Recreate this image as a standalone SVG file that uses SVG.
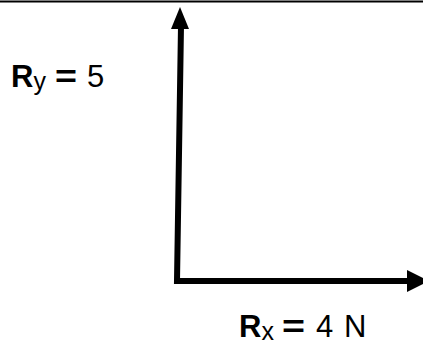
<svg xmlns="http://www.w3.org/2000/svg" width="423" height="347" viewBox="0 0 423 347">
<style>
.t{font-family:"Liberation Sans",Arial,sans-serif;fill:#000}
.b{font-weight:bold}
.ln{fill:none;stroke:#000;stroke-width:6;stroke-linejoin:miter}
</style>
<rect width="423" height="347" fill="#fff"/>
<line x1="0" y1="1.5" x2="423" y2="1.5" stroke="#000" stroke-width="2"/>
<g id="connectors">
<path class="ln" d="M181,26 L177,281 L410,281"/>
<polygon points="180,7 171,29 189,29" fill="#000"/>
<polygon points="429,281 407,270 407,292" fill="#000"/>
</g>
<g id="ry">
<text class="t b" x="11" y="87" font-size="31">R</text>
<text class="t" x="33.5" y="90" font-size="25">y</text>
<text class="t b" x="55" y="87" font-size="31" textLength="22" lengthAdjust="spacingAndGlyphs">=</text>
<text class="t" x="87" y="87" font-size="31">5</text>
</g>
<g id="rx">
<text class="t b" x="239" y="337" font-size="31">R</text>
<text class="t" x="261.5" y="340" font-size="25">x</text>
<text class="t b" x="282" y="337" font-size="31" textLength="23" lengthAdjust="spacingAndGlyphs">=</text>
<text class="t" x="316" y="337" font-size="31">4</text>
<text class="t" x="344" y="337" font-size="31">N</text>
</g>
</svg>
